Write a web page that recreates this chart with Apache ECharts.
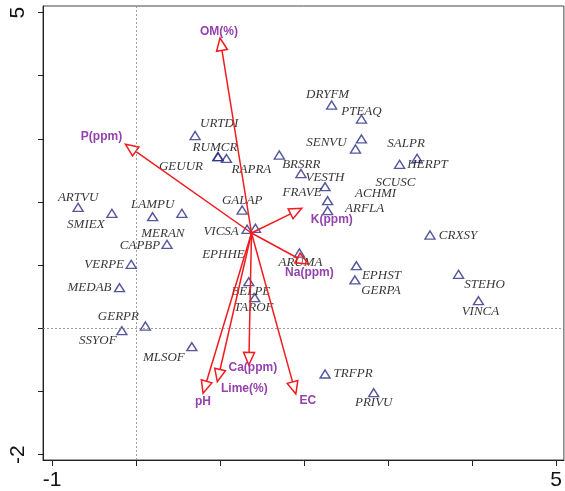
<!DOCTYPE html>
<html><head><meta charset="utf-8">
<script src="https://cdn.jsdelivr.net/npm/echarts@6/dist/echarts.min.js"></script>
<style>html,body{margin:0;padding:0;background:#fff}#c{width:565px;height:491px}</style>
</head><body><div id="c"></div>
<script>
// ---- data ----
const speciesNames = ['ARTVU','SMIEX','LAMPU','MERAN','CAPBP','VERPE','MEDAB','GERPR','SSYOF','MLSOF',
  'URTDI','RUMCR','GEUUR','RAPRA','BRSRR','VESTH','GALAP','VICSA','EPHHE','ARUMA','BELPE','TAROF',
  'DRYFM','PTEAQ','SCUSC','SENVU','FRAVE','ACHMI','ARFLA','HERPT','SALPR','CRXSY','STEHO','VINCA',
  'EPHST','GERPA','TRFPR','PRIVU'];
const speciesX = [-0.691,-0.289,0.196,0.544,0.367,-0.059,-0.198,0.110,-0.170,0.663,
  0.702,0.974,0.974,1.075,1.704,1.962,1.262,1.321,1.420,1.944,1.341,1.412,
  2.327,2.682,2.682,2.611,2.249,2.279,2.279,3.136,3.344,3.498,3.838,4.075,
  2.622,2.604,2.249,2.828];
const speciesY = [1.916,1.821,1.767,1.821,1.330,1.013,0.643,0.036,-0.038,-0.291,
  3.053,2.717,2.717,2.689,2.744,2.451,1.873,1.568,1.584,1.192,0.738,0.485,
  3.536,3.314,2.998,2.839,2.242,2.021,1.862,2.597,2.692,1.477,0.855,0.437,
  0.991,0.765,-0.724,-1.020];
const envNames = ['OM(%)','P(ppm)','K(ppm)','Na(ppm)','EC','Ca(ppm)','Lime(%)','pH'];
const envX = [0.998,-0.127,1.972,2.051,1.901,1.341,0.966,0.796];
const envY = [4.597,2.914,1.900,1.018,-1.040,-0.581,-0.846,-1.029];
const envOrigin = [1.373,1.509];
const xTicks = [-1,0,1,2,3,4,5];
const xTickLabels = [-1,5];
const yTicks = [-2,-1,0,1,2,3,4,5];
const yTickLabels = [-2,5];

// ---- layout (label offsets in px) ----
const speciesLabelOffset = {
  ARTVU:[0,-10], SMIEX:[-26,11], LAMPU:[0,-12], MERAN:[-19,20], CAPBP:[-27,1], VERPE:[-27,0],
  MEDAB:[-30,0], GERPR:[-27,-9], SSYOF:[-24,10], MLSOF:[-28,11], URTDI:[24,-12], RUMCR:[-3,-9],
  GEUUR:[-37,10], RAPRA:[25,11], BRSRR:[22,10], VESTH:[24,4], GALAP:[0,-9], VICSA:[-26,2],
  EPHHE:[-32,26], ARUMA:[1,10], BELPE:[2,10], TAROF:[-1,10], DRYFM:[-4,-10], PTEAQ:[0,-7],
  SCUSC:[34,44], SENVU:[-29,-6], FRAVE:[-23,6], ACHMI:[48,-7], ARFLA:[37,-2], HERPT:[28,0],
  SALPR:[-11,-15], CRXSY:[28,1], STEHO:[26,10], VINCA:[2,11], EPHST:[25,10], GERPA:[26,11],
  TRFPR:[28,0], PRIVU:[0,10]
};
const envLabelOffset = {
  'OM(%)':[-1,-6], 'P(ppm)':[-24,-8], 'K(ppm)':[30,11], 'Na(ppm)':[1,9], 'EC':[12,7],
  'Ca(ppm)':[4,3], 'Lime(%)':[27,7], 'pH':[0,8]
};
const RED = '#f21b1f', PURPLE = '#9442ad', NAVY = '#2b2d85';

const chart = echarts.init(document.getElementById('c'), null, {renderer:'canvas'});
const speciesData = speciesNames.map((n,i)=>({
  name:n, value:[speciesX[i], speciesY[i]],
  label:{offset: speciesLabelOffset[n]}
}));
chart.setOption({
  animation:false,
  backgroundColor:'#fff',
  grid:{left:43, top:6, right:-2, bottom:31, show:true, borderColor:'#444', borderWidth:1, backgroundColor:'transparent'},
  xAxis:{type:'value', min:-1.109, max:5.092, position:'bottom',
    axisLine:{show:true, onZero:false, lineStyle:{color:'#222', width:1}},
    axisTick:{show:true, customValues:xTicks, length:6, lineStyle:{color:'#222'}},
    axisLabel:{customValues:xTickLabels, fontSize:21, color:'#111', fontFamily:'Liberation Sans', margin:10},
    splitLine:{show:false}},
  yAxis:{type:'value', min:-2.086, max:5.104,
    axisLine:{show:true, onZero:false, lineStyle:{color:'#222', width:1}},
    axisTick:{show:true, customValues:yTicks, length:5, lineStyle:{color:'#222'}},
    axisLabel:{customValues:yTickLabels, fontSize:21, color:'#111', fontFamily:'Liberation Sans', rotate:90, margin:14},
    splitLine:{show:false}},
  series:[
    {type:'scatter', symbol:'triangle', symbolSize:[10,8], data:speciesData, z:3,
      itemStyle:{color:'transparent', borderColor:NAVY, borderWidth:1.4},
      label:{show:true, position:'inside', formatter:'{b}', color:'#000', fontSize:13,
        fontStyle:'italic', fontFamily:'Liberation Serif', align:'center', verticalAlign:'middle'},
      markLine:{silent:true, symbol:'none', label:{show:false},
        lineStyle:{color:'#888', width:0.8, type:[2,2]},
        data:[{xAxis:0},{yAxis:0}]}
    },
    {type:'custom', z:4, data:envX.map((x,i)=>[x, envY[i]]), encode:{x:0, y:1},
      renderItem:function(params, api){
        const o = api.coord(envOrigin);
        const t = api.coord([api.value(0), api.value(1)]);
        const dx=t[0]-o[0], dy=t[1]-o[1], L=Math.hypot(dx,dy), ux=dx/L, uy=dy/L;
        const hl=12.5, hw=5.5;
        const b=[t[0]-ux*hl, t[1]-uy*hl];
        const p1=[b[0]-uy*hw, b[1]+ux*hw], p2=[b[0]+uy*hw, b[1]-ux*hw];
        const name = envNames[params.dataIndex], off = envLabelOffset[name];
        return {type:'group', children:[
          {type:'line', shape:{x1:o[0],y1:o[1],x2:b[0],y2:b[1]}, style:{stroke:RED, lineWidth:1.5}},
          {type:'polygon', shape:{points:[t,p1,p2]}, style:{fill:'none', stroke:RED, lineWidth:1.5}},
          {type:'text', x:t[0]+off[0], y:t[1]+off[1], style:{text:name, fill:PURPLE,
            font:'bold 12px "Liberation Sans", Arial', align:'center', verticalAlign:'middle'}}
        ]};
      }
    }
  ]
});
</script></body></html>
